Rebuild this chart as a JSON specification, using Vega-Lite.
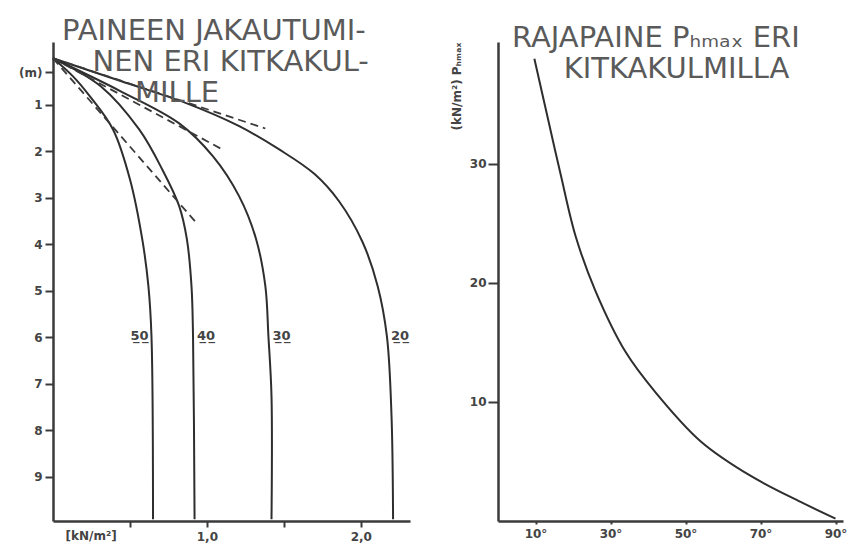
{
  "$schema": "https://vega.github.io/schema/vega-lite/v6.json",
  "background": "white",
  "padding": {"left": 18, "top": 17, "right": 5, "bottom": 5},
  "spacing": 40,
  "config": {
    "view": {"stroke": null},
    "axis": {"domainColor": "#3a3a3a", "domainWidth": 2.5, "tickColor": "#3a3a3a", "tickWidth": 2, "labelColor": "#444", "labelFont": "DejaVu Sans", "labelFontSize": 12, "labelFontWeight": "bold", "grid": false, "titleColor": "#444", "titleFont": "DejaVu Sans", "titleFontWeight": "normal"},
    "title": {"font": "DejaVu Sans", "fontSize": 29, "fontWeight": "normal", "color": "#5a5a5a", "anchor": "start", "frame": "group", "lineHeight": 31}
  },
  "datasets": {
    "curves": [
      {"angle": "20", "p": 0, "z": 0}, {"angle": "20", "p": 0.44, "z": 0.49}, {"angle": "20", "p": 0.87, "z": 0.97}, {"angle": "20", "p": 1.21, "z": 1.46}, {"angle": "20", "p": 1.47, "z": 1.96}, {"angle": "20", "p": 1.70, "z": 2.49}, {"angle": "20", "p": 1.86, "z": 3.08}, {"angle": "20", "p": 2.01, "z": 3.94}, {"angle": "20", "p": 2.11, "z": 4.90}, {"angle": "20", "p": 2.17, "z": 5.98}, {"angle": "20", "p": 2.20, "z": 7.70}, {"angle": "20", "p": 2.21, "z": 9.91},
      {"angle": "30", "p": 0, "z": 0}, {"angle": "30", "p": 0.44, "z": 0.71}, {"angle": "30", "p": 0.82, "z": 1.40}, {"angle": "30", "p": 1.04, "z": 2.11}, {"angle": "30", "p": 1.21, "z": 2.97}, {"angle": "30", "p": 1.32, "z": 3.89}, {"angle": "30", "p": 1.38, "z": 4.90}, {"angle": "30", "p": 1.40, "z": 5.98}, {"angle": "30", "p": 1.42, "z": 7.27}, {"angle": "30", "p": 1.42, "z": 9.91},
      {"angle": "40", "p": 0, "z": 0}, {"angle": "40", "p": 0.31, "z": 0.60}, {"angle": "40", "p": 0.56, "z": 1.53}, {"angle": "40", "p": 0.71, "z": 2.39}, {"angle": "40", "p": 0.82, "z": 3.18}, {"angle": "40", "p": 0.87, "z": 3.89}, {"angle": "40", "p": 0.90, "z": 4.90}, {"angle": "40", "p": 0.91, "z": 5.98}, {"angle": "40", "p": 0.92, "z": 9.91},
      {"angle": "50", "p": 0, "z": 0}, {"angle": "50", "p": 0.13, "z": 0.39}, {"angle": "50", "p": 0.24, "z": 0.82}, {"angle": "50", "p": 0.39, "z": 1.53}, {"angle": "50", "p": 0.50, "z": 2.60}, {"angle": "50", "p": 0.58, "z": 3.89}, {"angle": "50", "p": 0.62, "z": 4.90}, {"angle": "50", "p": 0.64, "z": 5.98}, {"angle": "50", "p": 0.65, "z": 9.91}
    ],
    "dashed": [
      {"line": "A", "p": 0, "z": 0}, {"line": "A", "p": 1.38, "z": 1.51},
      {"line": "B", "p": 0, "z": 0}, {"line": "B", "p": 1.10, "z": 1.96},
      {"line": "C", "p": 0, "z": 0}, {"line": "C", "p": 0.94, "z": 3.57}
    ],
    "limit": [
      {"phi": 9.7, "P": 38.8}, {"phi": 13.5, "P": 33.5}, {"phi": 16.7, "P": 29.1}, {"phi": 20.7, "P": 23.9}, {"phi": 26.0, "P": 19.3}, {"phi": 34.0, "P": 14.2}, {"phi": 42.0, "P": 10.8}, {"phi": 54.0, "P": 6.7}, {"phi": 67.3, "P": 3.8}, {"phi": 80.7, "P": 1.6}, {"phi": 90.0, "P": 0.2}
    ]
  },
  "hconcat": [
    {
      "width": 357,
      "height": 479,
      "title": {"text": ["PAINEEN JAKAUTUMI-", "\u2800 NEN ERI KITKAKUL-", "\u2800\u2800\u2800 MILLE"], "offset": -66, "dx": 9},
      "layer": [
        {
          "data": {"name": "curves"},
          "mark": {"type": "line", "color": "#2e2e2e", "strokeWidth": 2, "interpolate": "catmull-rom"},
          "encoding": {
            "x": {"field": "p", "type": "quantitative", "scale": {"domain": [0, 2.32], "nice": false}, "axis": {"values": [0.5, 1, 1.5, 2], "labelExpr": "datum.value == 1 ? '1,0' : datum.value == 2 ? '2,0' : ''", "tickSize": 6, "labelPadding": 4, "title": "[kN/m²]", "titleAnchor": "start", "titleX": 12, "titleY": 9, "titleBaseline": "top", "titleAlign": "left", "titleFontSize": 12, "titleFontWeight": "bold"}},
            "y": {"field": "z", "type": "quantitative", "scale": {"domain": [-0.35, 9.95], "nice": false, "zero": false, "reverse": true}, "axis": {"values": [0.3, 1, 2, 3, 4, 5, 6, 7, 8, 9], "labelExpr": "datum.value < 0.5 ? '(m)' : datum.label", "tickSize": 8, "labelPadding": 3, "title": null}},
            "detail": {"field": "angle"},
            "order": {"field": "z", "type": "quantitative"}
          }
        },
        {
          "data": {"name": "dashed"},
          "mark": {"type": "line", "color": "#3a3a3a", "strokeWidth": 1.8, "strokeDash": [8, 5]},
          "encoding": {
            "x": {"field": "p", "type": "quantitative"},
            "y": {"field": "z", "type": "quantitative"},
            "detail": {"field": "line"}
          }
        },
        {
          "data": {"name": "curves"},
          "transform": [{"filter": "datum.z == 5.98 && datum.angle == '50'"}, {"calculate": "substring(datum.angle,0,1) + '\u0332' + substring(datum.angle,1,2) + '\u0332'", "as": "lab"}],
          "mark": {"type": "text", "align": "right", "dx": -3, "baseline": "middle", "font": "DejaVu Sans", "fontSize": 13, "fontWeight": "bold", "color": "#444"},
          "encoding": {
            "x": {"field": "p", "type": "quantitative"},
            "y": {"field": "z", "type": "quantitative"},
            "text": {"field": "lab"}
          }
        },
        {
          "data": {"name": "curves"},
          "transform": [{"filter": "datum.z == 5.98 && datum.angle != '50'"}, {"calculate": "substring(datum.angle,0,1) + '\u0332' + substring(datum.angle,1,2) + '\u0332'", "as": "lab"}],
          "mark": {"type": "text", "align": "left", "dx": 4, "baseline": "middle", "font": "DejaVu Sans", "fontSize": 13, "fontWeight": "bold", "color": "#444"},
          "encoding": {
            "x": {"field": "p", "type": "quantitative"},
            "y": {"field": "z", "type": "quantitative"},
            "text": {"field": "lab"}
          }
        }
      ]
    },
    {
      "width": 345,
      "height": 479,
      "title": {"text": ["RAJAPAINE Pₕₘₐₓ ERI", "\u2800\u2800 KITKAKULMILLA"], "offset": -42, "dx": 14},
      "data": {"name": "limit"},
      "mark": {"type": "line", "color": "#2e2e2e", "strokeWidth": 2, "interpolate": "catmull-rom"},
      "encoding": {
        "x": {"field": "phi", "type": "quantitative", "scale": {"domain": [0, 92], "nice": false}, "axis": {"values": [10, 30, 50, 70, 90], "labelExpr": "datum.label + '°'", "tickSize": 3, "labelPadding": 4, "title": null}},
        "y": {"field": "P", "type": "quantitative", "scale": {"domain": [0, 40.2], "nice": false}, "axis": {"values": [10, 20, 30], "tickSize": 10, "labelPadding": 2, "title": "(kN/m²) Pₕₘₐₓ", "titleAnchor": "end", "titleFontSize": 12, "titleFontWeight": "bold", "titlePadding": 6}},
        "order": {"field": "phi", "type": "quantitative"}
      }
    }
  ]
}
